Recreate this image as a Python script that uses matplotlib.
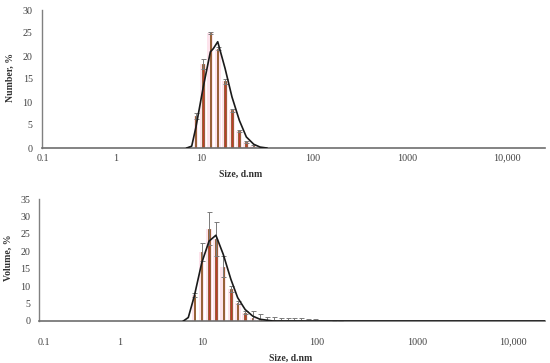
import numpy as np
import matplotlib
matplotlib.use("Agg")
import matplotlib.pyplot as plt
from matplotlib.ticker import FixedLocator, NullLocator, FixedFormatter

# ---------------- data ----------------
tick_vals = [0.1, 1, 10, 100, 1000, 10000]
tick_labels = ["0.1", "1", "10", "100", "1000", "10,000"]

num_size = [8.7, 10.4, 12.1, 14.1, 16.4, 18.9, 21.8, 25.2, 29.3]
num_pct = [7.0, 18.2, 25.0, 21.6, 14.5, 8.2, 3.7, 1.3, 0.4]
num_err = [0.6, 1.1, 0.3, 0.3, 0.5, 0.3, 0.3, 0.2, 0.2]

num_fit_size = [6.79, 7.77, 8.73, 10.48, 12.12, 12.88, 14.1, 16.4, 18.9, 22.0, 25.4, 29.6, 33.7, 38.7]
num_fit_pct = [0, 0.4, 4.6, 13.3, 20.9, 21.6, 23.1, 17.3, 11.1, 6.0, 2.4, 0.8, 0.2, 0]

vol_size = [8.06, 9.9, 11.5, 13.2, 15.3, 17.8, 20.4, 23.7, 27.6, 31.9, 36.5, 42.3,
            48.6, 55.6, 63.5, 72.6, 83.6, 96, 111, 129, 148, 170]
vol_pct = [7.4, 19.8, 26.5, 23.6, 15.6, 9.1, 5.3, 2.4, 0.8, 0.3, 0.3, 0.3,
           0.25, 0.2, 0.2, 0.15, 0.1, 0.1, 0.05, 0.05, 0.02, 0.02]
vol_err = [0.6, 2.7, 4.8, 4.9, 3.0, 0.8, 0.5, 0.5, 2.1, 1.7, 0.8, 0.8,
           0.7, 0.7, 0.6, 0.6, 0.5, 0.4, 0.3, 0.2, 0.15, 0.1]

vol_fit_size = [5.92, 6.80, 8.06, 9.92, 11.5, 13.2, 15.3, 17.8, 20.4, 23.7, 27.6, 31.9, 41.4, 24000]
vol_fit_pct = [0, 1.0, 7.2, 16.7, 22.9, 24.6, 19.1, 12.0, 6.7, 3.3, 1.4, 0.5, 0, 0]

# label positions along each axis (decade -> relative position)
top_knots = [43, 116, 201, 313, 407, 507]
bot_knots = [44, 120, 202, 317, 417, 513]


def make_scale(knots):
    lg = np.array([-2, -1, 0, 1, 2, 3, 4, 6], float)
    k = np.array(knots, float)
    u = np.concatenate([[k[0] - (k[1] - k[0])], k, [k[-1] + 2 * (k[-1] - k[-2])]])

    def fwd(x):
        x = np.asarray(x, float)
        return np.interp(np.log10(np.clip(x, 1e-6, None)), lg, u)

    def inv(v):
        return 10 ** np.interp(np.asarray(v, float), u, lg)
    return fwd, inv


W, H = 550, 363
fig = plt.figure(figsize=(5.5, 3.63), dpi=100)
serif = ["Liberation Serif", "DejaVu Serif"]

bar_c = "#c0392b"
edge_c = "#8a5a2a"
halo_c = "#fde3ec"
err_c = "#7a7a7a"


def setup(ax, knots, xlim, ylim, yticks, xpad):
    f, i = make_scale(knots)
    ax.set_xscale("function", functions=(f, i))
    ax.set_xlim(*xlim)
    ax.set_ylim(*ylim)
    ax.xaxis.set_major_locator(FixedLocator(tick_vals))
    ax.xaxis.set_major_formatter(FixedFormatter(tick_labels))
    ax.xaxis.set_minor_locator(NullLocator())
    ax.set_yticks(yticks)
    for s in ["top", "right"]:
        ax.spines[s].set_visible(False)
    ax.spines["left"].set_color("#808080")
    ax.spines["bottom"].set_color("#6e6e6e")
    ax.spines["left"].set_linewidth(1.0)
    ax.spines["bottom"].set_linewidth(1.2)
    ax.tick_params(axis="both", length=0, labelsize=7.2, colors="#404040")
    ax.tick_params(axis="y", pad=6.5)
    ax.tick_params(axis="x", pad=xpad)
    for lab in ax.get_xticklabels() + ax.get_yticklabels():
        lab.set_family(serif)


def draw_bars(ax, sizes, vals, errs):
    s = np.array(sizes, float)
    ax.bar(s, vals, width=s * 0.12, color=halo_c, zorder=1, linewidth=0)
    ax.bar(s, vals, width=s * 0.028, color=bar_c, edgecolor=edge_c,
           linewidth=0.6, zorder=2)
    ax.errorbar(s, vals, yerr=errs, fmt="none", ecolor=err_c, elinewidth=0.7,
                capsize=1.8, capthick=0.7, zorder=3)


# top panel
ax1 = fig.add_axes([41.7 / W, 1 - 148 / H, (545 - 41.7) / W, 138 / H])
setup(ax1, top_knots, (0.0959, 24000), (0, 30), range(0, 31, 5), 4)
draw_bars(ax1, num_size, num_pct, num_err)
ax1.plot(num_fit_size, num_fit_pct, color="#1a1a1a", lw=1.2, zorder=4)

# bottom panel
ax2 = fig.add_axes([39.3 / W, 1 - 321 / H, (545 - 39.3) / W, 122 / H])
setup(ax2, bot_knots, (0.0867, 21500), (0, 35), range(0, 36, 5), 12)
draw_bars(ax2, vol_size, vol_pct, vol_err)
ax2.plot(vol_fit_size, vol_fit_pct, color="#1a1a1a", lw=1.2, zorder=4)

fig.text(241 / W, 1 - 174 / H, "Size, d.nm", ha="center", va="center",
         fontsize=7, fontweight="bold", family=serif, color="#303030")
fig.text(291 / W, 1 - 358 / H, "Size, d.nm", ha="center", va="center",
         fontsize=7, fontweight="bold", family=serif, color="#303030")
fig.text(10 / W, 1 - 78 / H, "Number, %", ha="center", va="center", rotation=90,
         fontsize=7, fontweight="bold", family=serif, color="#303030")
fig.text(8 / W, 1 - 258 / H, "Volume, %", ha="center", va="center", rotation=90,
         fontsize=7, fontweight="bold", family=serif, color="#303030")

fig.savefig("out.png", dpi=100)
